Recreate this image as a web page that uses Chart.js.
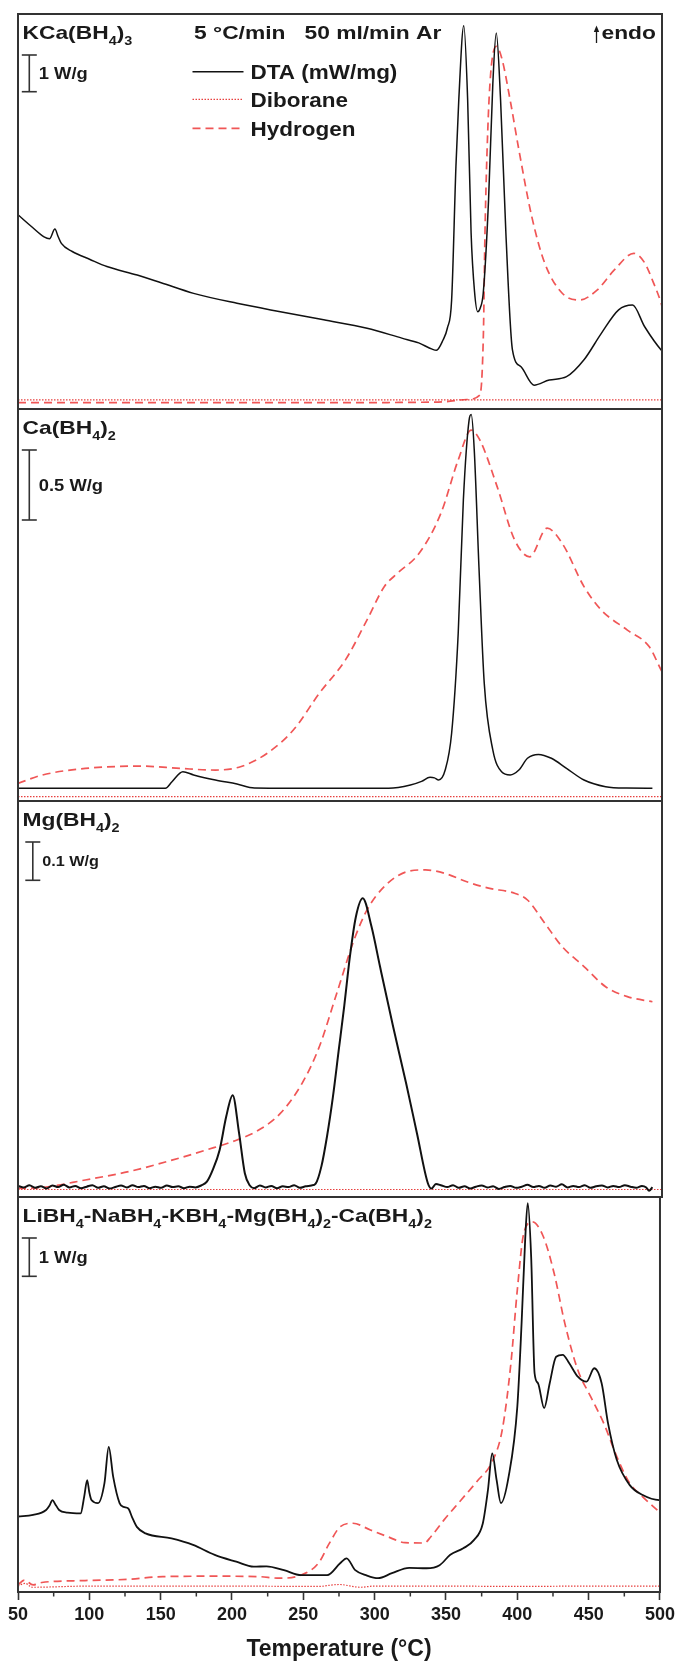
<!DOCTYPE html>
<html>
<head>
<meta charset="utf-8">
<script src="https://cdn.jsdelivr.net/npm/chart.js@4.4.1/dist/chart.umd.min.js"></script>
<style>
  html, body { margin: 0; padding: 0; background: #fff; }
  #wrap { position: relative; width: 679px; height: 1663px; }
  #wrap canvas { position: absolute; left: 0; }
</style>
</head>
<body>
<div id="wrap"></div>
<script>
// temperature axis (°C)
const tempMin = 50, tempMax = 500, tempMajor = 50, tempMinor = 25;

// KCa(BH4)3 : [T, DTA W/g] and [T, MS signal %]
const kcaDta = [[50,5.29],[60,4.95],[68.2,4.69],[72,4.64],[75.8,4.90],[78,4.70],[80.3,4.51],[87.9,4.29],[100,4.08],[112.1,3.88],[133.3,3.65],[150,3.44],[172.7,3.15],[203,2.88],[233.3,2.65],[263.6,2.43],[293.9,2.20],[318.2,1.93],[330,1.80],[339.4,1.63],[342.4,1.60],[347,1.88],[350,2.2],[353,2.97],[356,6.60],[358,8.42],[361.5,10.44],[364.2,8.42],[366.6,4.80],[369,3.2],[371.2,2.65],[373,2.75],[375.1,3.16],[378.8,5.69],[381.8,8.87],[384.2,10.24],[387.2,8.42],[390.9,4.80],[395.5,1.61],[401.5,1.15],[410.6,0.65],[421.2,0.79],[433.3,0.88],[445.5,1.34],[457.6,2.06],[469.7,2.70],[479.4,2.83],[487.9,2.24],[499.4,1.61],[500,1.59]];
const kcaDiborane = [[50,2.3],[200,2.3],[350,2.3],[500,2.3]];
const kcaHydrogen = [[50,1.6],[150,1.6],[250,1.6],[330,1.7],[348.5,1.85],[363.6,2.4],[372.7,3.5],[375.2,19],[376.3,44.5],[378.2,70],[380.3,85],[384.2,91.8],[387.9,89],[394,78],[400,65.6],[409,48.7],[418,37],[430.3,29.3],[442.4,27.6],[454.6,30.1],[466.7,35.2],[480.3,39.4],[487.9,37],[494,32],[499.4,26.8],[500,26]];

// Ca(BH4)2
const caDta = [[50,0.091],[100,0.091],[153,0.091],[157.6,0.138],[165.2,0.209],[172.7,0.186],[187.9,0.150],[203,0.121],[215.2,0.093],[250,0.091],[309,0.091],[324.2,0.114],[332,0.14],[337.9,0.169],[341,0.165],[343.9,0.150],[348.5,0.221],[353,0.484],[357.6,1.198],[361.2,2.15],[365.2,2.72],[366.7,2.76],[368.8,2.51],[372.1,1.67],[375.8,0.84],[381.8,0.364],[387.9,0.209],[393.9,0.186],[400,0.221],[406,0.305],[413.6,0.333],[422.7,0.305],[433.3,0.233],[445.5,0.150],[460.6,0.102],[475,0.092],[493.3,0.091]];
const caDiborane = [[50,1.1],[200,1.1],[350,1.1],[500,1.1]];
const caHydrogen = [[50,4.5],[66.7,6.6],[97,8.3],[136.4,8.9],[163.6,8.3],[187.9,7.9],[206,8.8],[224.2,12.2],[242.4,18.1],[260.6,27.5],[278.8,36],[293.9,46.2],[306,54.7],[315.2,58.1],[330.3,63.2],[345.5,73.4],[357.6,87],[366.7,94.6],[372.7,92.1],[384.8,80.2],[397,66.6],[407.6,62.3],[419.7,69.6],[430.3,65.7],[445.5,54.7],[457.6,48.7],[475.8,43.6],[491,39.4],[499.4,33.4],[500,33]];

// Mg(BH4)2
const mgDta = [[50,.029],[54,.025],[58,.031],[62,.024],[66,.028],[70,.022],[74,.030],[78,.026],[82,.032],[86,.025],[90,.029],[94,.023],[98,.027],[102,.031],[106,.024],[110,.028],[114,.022],[118,.026],[122,.030],[126,.025],[130,.031],[134,.026],[138,.029],[142,.023],[146,.027],[150,.024],[154,.030],[158,.026],[162,.028],[166,.023],[170,.027],[174,.025],[178,.030],[182,.040],[186,.070],[190.9,.123],[195.5,.210],[200,.266],[204.5,.166],[208.5,.062],[212,.030],[215,.023],[219,.030],[223,.025],[227,.029],[231,.023],[235,.028],[239,.026],[243,.031],[247,.024],[251,.028],[255,.030],[258,.035],[262,.08],[266,.16],[270,.26],[274,.38],[278,.50],[282,.63],[286,.73],[290.9,.780],[297,.706],[303,.601],[312.1,.445],[321.2,.297],[328.8,.166],[336.4,.036],[339,.022],[342,.034],[346,.030],[350,.026],[354,.031],[358,.024],[362,.028],[366,.022],[370,.027],[374,.030],[378,.025],[382,.028],[386,.021],[390,.026],[394,.029],[398,.024],[402,.027],[406,.032],[410,.026],[414,.029],[418,.024],[422,.030],[426,.027],[430,.033],[434,.025],[438,.029],[442,.026],[446,.031],[450,.024],[454,.028],[458,.030],[462,.025],[466,.029],[470,.026],[474,.031],[478,.027],[482,.024],[486,.029],[489,.025],[491,.016],[493.3,.026]];
const mgDiborane = [[50,1.9],[200,1.9],[350,1.9],[500,1.9]];
const mgHydrogen = [[50,2.2],[66.7,2.4],[97,4.3],[127.3,6.4],[157.6,9.3],[181.8,11.9],[203,14.4],[218.2,16.9],[233.3,21.1],[248.5,28.7],[260.6,38],[272.7,51.4],[284.8,64.9],[293.9,72.5],[306,78.4],[321.2,82.1],[334.8,82.6],[348.5,81.7],[363.6,79.6],[378.8,78],[397,76.7],[406,75],[418.2,69.1],[430.3,63.2],[445.5,58.2],[460.6,53.1],[475.8,50.6],[493.3,49.3]];

// LiBH4-NaBH4-KBH4-Mg(BH4)2-Ca(BH4)2
const mixDta = [[50,1.97],[60.6,2.01],[69.7,2.14],[72,2.25],[74.2,2.40],[76,2.30],[78.8,2.14],[84.8,2.07],[93.9,2.05],[96.4,2.49],[98.5,2.92],[100,2.6],[101.5,2.40],[106.1,2.32],[110.6,2.84],[113.6,3.79],[116.7,3.01],[121.2,2.32],[124,2.22],[127.3,2.18],[130,1.95],[133.3,1.70],[139.4,1.53],[157.6,1.40],[172.7,1.23],[187.9,0.97],[203,0.79],[215.2,0.66],[224.2,0.67],[236.4,0.57],[248.5,0.44],[266.7,0.44],[275.8,0.75],[280.3,0.88],[286.4,0.57],[293.9,0.44],[302.4,0.36],[312.1,0.49],[324.2,0.63],[336.4,0.62],[345.5,0.70],[353,0.97],[362.1,1.14],[369.7,1.36],[375.8,1.79],[379.4,2.66],[382.4,3.62],[385.5,2.92],[388.5,2.32],[393.9,3.01],[400,4.84],[403,7.02],[405.5,9.19],[407.3,10.15],[409.7,8.75],[412.1,5.71],[414.5,5.45],[418.8,4.80],[422.7,5.45],[427.2,6.14],[431.8,6.19],[436.4,5.97],[442.4,5.62],[448.5,5.49],[453.9,5.84],[459.1,5.45],[463.6,4.40],[469.7,3.45],[478.8,2.79],[487.9,2.53],[499.4,2.40],[500,2.40]];
const mixDiborane = [[50,1.5],[55,2.2],[60,1.2],[100,1.5],[150,1.5],[200,1.5],[260,1.4],[275,1.9],[290,1.2],[300,1.5],[350,1.5],[400,1.4],[450,1.5],[500,1.5]];
const mixHydrogen = [[50,1.8],[54.5,3.0],[60.6,1.8],[66.7,2.4],[97,2.9],[127.3,3.2],[151.5,3.9],[187.9,4.0],[218.2,3.9],[233.3,3.5],[248.5,4.3],[260.6,7.3],[268.2,12.3],[275.8,16.5],[284.8,17.4],[297,15.7],[309.1,14],[321.2,12.5],[334.8,12.4],[339.4,14],[348.5,18.2],[360.6,23.3],[372.7,28.4],[381.8,32.6],[389.4,41],[395.5,57.9],[400,76.5],[404.5,90.8],[410.6,93.7],[418.2,90],[425.8,80.7],[433.3,68],[442.4,56.2],[451.5,49.4],[460.6,42.7],[469.7,34.3],[478.8,27.5],[487.9,24.1],[499.4,20.3],[500,20.1]];

// sample names, as [text, isSubscript]
const kcaName = [['KCa(BH', 0], ['4', 1], [')', 0], ['3', 1]];
const caName = [['Ca(BH', 0], ['4', 1], [')', 0], ['2', 1]];
const mgName = [['Mg(BH', 0], ['4', 1], [')', 0], ['2', 1]];
const mixName = [['LiBH', 0], ['4', 1], ['-NaBH', 0], ['4', 1], ['-KBH', 0], ['4', 1], ['-Mg(BH', 0], ['4', 1], [')', 0], ['2', 1], ['-Ca(BH', 0], ['4', 1], [')', 0], ['2', 1]];

// DTA scale bars (W/g) and DTA axis ranges (W/g)
const barValues = [1, 0.5, 0.1, 1];
const barLabels = ['1 W/g', '0.5 W/g', '0.1 W/g', '1 W/g'];
const dtaMax = [10.76, 2.8, 1.034, 10.31];

const panels = [
  { name: kcaName, dta: kcaDta, b2h6: kcaDiborane, h2: kcaHydrogen },
  { name: caName, dta: caDta, b2h6: caDiborane, h2: caHydrogen },
  { name: mgName, dta: mgDta, b2h6: mgDiborane, h2: mgHydrogen },
  { name: mixName, dta: mixDta, b2h6: mixDiborane, h2: mixHydrogen }
];

// layout
const W = 679, H = 1663;
const panelEdges = [14, 409, 801, 1197, 1592];
const dtaWidths = [1.5, 1.5, 2, 1.8];
const FONT = '"Liberation Sans", Arial, sans-serif';
const INK = '#1a1a1a';
const FRAME = '#333';

function toXY(arr) {
  return arr.map(function (p) { return { x: p[0], y: p[1] }; });
}

function drawRich(ctx, parts, x, y, size, sx) {
  ctx.save();
  ctx.translate(x, y);
  ctx.scale(sx, 1);
  ctx.textAlign = 'left';
  ctx.textBaseline = 'alphabetic';
  ctx.fillStyle = INK;
  let cx = 0;
  parts.forEach(function (p) {
    const sub = p[1] === 1;
    ctx.font = 'bold ' + (sub ? Math.round(size * 0.62) : size) + 'px ' + FONT;
    ctx.fillText(p[0], cx, sub ? size * 0.34 : 0);
    cx += ctx.measureText(p[0]).width;
  });
  ctx.restore();
}

function line(ctx, x1, y1, x2, y2) {
  ctx.beginPath();
  ctx.moveTo(x1, y1);
  ctx.lineTo(x2, y2);
  ctx.stroke();
}

function makePanel(i) {
  const p = panels[i];
  const last = i === panels.length - 1;
  const top = panelEdges[i] - 4;
  const height = last ? H - top : panelEdges[i + 1] - panelEdges[i] + 8;

  const canvas = document.createElement('canvas');
  canvas.width = W;
  canvas.height = height;
  canvas.style.top = top + 'px';
  document.getElementById('wrap').appendChild(canvas);

  const decorate = {
    id: 'decorate' + i,
    afterDraw: function (chart) {
      const ctx = chart.ctx;
      const a = chart.chartArea;
      ctx.save();
      // frame
      ctx.strokeStyle = FRAME;
      ctx.lineWidth = 2;
      ctx.strokeRect(a.left, a.top, a.right - a.left, a.bottom - a.top);

      // minor ticks on the temperature axis
      if (last) {
        const xs = chart.scales.x;
        ctx.lineWidth = 1.5;
        for (let t = tempMin + tempMinor; t < tempMax; t += tempMajor) {
          const px = xs.getPixelForValue(t);
          line(ctx, px, a.bottom, px, a.bottom + 4.5);
        }
      }

      // sample name
      drawRich(ctx, p.name, 22.5, a.top + 25, 19, 1.2);

      // DTA scale bar
      const ys = chart.scales.y;
      const barX = i === 2 ? 32.8 : 29.3;
      const barTop = a.top + 41;
      const vTop = ys.getValueForPixel(barTop);
      const barBottom = ys.getPixelForValue(vTop - barValues[i]);
      ctx.strokeStyle = FRAME;
      ctx.lineWidth = 1.6;
      line(ctx, barX, barTop, barX, barBottom);
      line(ctx, barX - 7.5, barTop, barX + 7.5, barTop);
      line(ctx, barX - 7.5, barBottom, barX + 7.5, barBottom);
      const mid = (barTop + barBottom) / 2;
      const lblSize = i === 2 ? 15 : 17;
      drawRich(ctx, [[barLabels[i], 0]], barX + 9.5, mid + lblSize * 0.34, lblSize, 1.08);

      if (i === 0) {
        // conditions and endo arrow
        drawRich(ctx, [['5 °C/min   50 ml/min Ar', 0]], 194, a.top + 24.5, 19, 1.2);
        drawRich(ctx, [['endo', 0]], 601.5, a.top + 24.5, 19, 1.2);
        ctx.strokeStyle = INK;
        ctx.fillStyle = INK;
        ctx.lineWidth = 1.3;
        line(ctx, 596.5, a.top + 29, 596.5, a.top + 15);
        ctx.beginPath();
        ctx.moveTo(596.5, a.top + 11.5);
        ctx.lineTo(593.8, a.top + 18);
        ctx.lineTo(599.2, a.top + 18);
        ctx.closePath();
        ctx.fill();

        // legend
        const rows = [61.7, 89.3, 118.3];
        chart.data.datasets.forEach(function (ds, k) {
          ctx.strokeStyle = ds.borderColor;
          ctx.lineWidth = ds.borderWidth;
          ctx.setLineDash(ds.borderDash || []);
          line(ctx, 192.5, rows[k], 243.5, rows[k]);
          ctx.setLineDash([]);
          drawRich(ctx, [[ds.label, 0]], 250.5, rows[k] + 7.6, 21, 1.07);
        });
      }
      ctx.restore();
    }
  };

  const xScale = {
    type: 'linear',
    min: tempMin,
    max: tempMax,
    display: last
  };
  if (last) {
    xScale.ticks = {
      stepSize: tempMinor,
      autoSkip: false,
      maxRotation: 0,
      padding: 4,
      color: INK,
      font: { family: FONT, size: 18, weight: 'bold' },
      callback: function (v) { return v % tempMajor === 0 ? String(v) : ''; }
    };
    xScale.grid = {
      drawOnChartArea: false,
      tickLength: 8,
      tickWidth: 1.6,
      tickColor: function (c) {
        return c.tick && c.tick.value % tempMajor === 0 ? FRAME : 'rgba(0,0,0,0)';
      }
    };
    xScale.border = { display: true, color: FRAME, width: 2 };
    xScale.title = {
      display: true,
      text: 'Temperature (°C)',
      color: INK,
      padding: 0,
      font: { family: FONT, size: 23, weight: 'bold' }
    };
    xScale.afterFit = function (s) { s.height = H - panelEdges[4]; };
  }

  return new Chart(canvas, {
    type: 'line',
    data: {
      datasets: [
        { label: 'DTA (mW/mg)', data: toXY(p.dta), yAxisID: 'y', borderColor: '#111111', borderWidth: dtaWidths[i] },
        { label: 'Diborane', data: toXY(p.b2h6), yAxisID: 'ms', borderColor: '#e8403f', borderWidth: 1.2, borderDash: [1.5, 1.5] },
        { label: 'Hydrogen', data: toXY(p.h2), yAxisID: 'ms', borderColor: '#f05656', borderWidth: 1.7, borderDash: [8, 5] }
      ]
    },
    options: {
      responsive: false,
      animation: false,
      devicePixelRatio: 1,
      layout: { padding: { top: 4, bottom: last ? 0 : 4, left: 18, right: 17 } },
      elements: {
        point: { radius: 0 },
        line: { cubicInterpolationMode: 'monotone', fill: false }
      },
      plugins: { legend: { display: false }, tooltip: { enabled: false } },
      scales: {
        x: xScale,
        y: { min: 0, max: dtaMax[i], display: false },
        ms: { min: 0, max: 100, display: false, position: 'right' }
      }
    },
    plugins: [decorate]
  });
}

panels.forEach(function (p, i) { makePanel(i); });
</script>
</body>
</html>
